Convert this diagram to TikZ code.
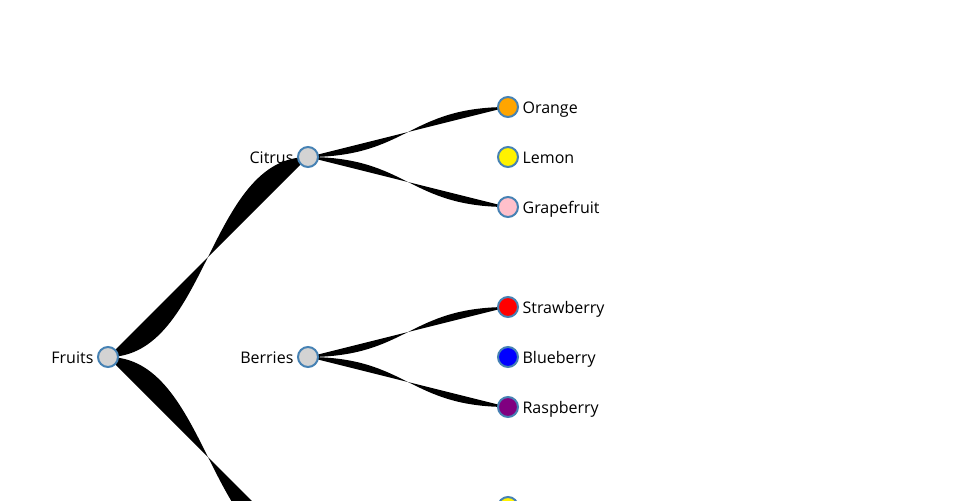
\documentclass[tikz,border=0pt]{standalone}
\usepackage{fontspec}
\setmainfont{Open Sans}
\usepackage{tikz}
\usetikzlibrary{backgrounds}
\definecolor{steelblue}{HTML}{4682B4}
\definecolor{lightgray}{HTML}{D3D3D3}
\definecolor{orange}{HTML}{FFA500}
\definecolor{pink}{HTML}{FFC0CB}
\definecolor{purple}{HTML}{800080}
\tikzset{dot/.style={circle,draw=steelblue,line width=1.5pt,minimum size=15pt,inner sep=0pt,fill=lightgray}}
\tikzset{leaf/.style={dot,label={[lbl,xshift=2.5pt]right:#1}}}
\tikzset{inner/.style={dot,label={[lbl,xshift=-2.5pt]left:#1}}}
\tikzset{lbl/.style={inner sep=0pt,text height=0.7em,text depth=0pt,yshift=-1.2pt,font=\fontsize{12}{14.4}\selectfont}}
\tikzset{link/.style={fill=black,draw=none}}

\begin{document}
\begin{tikzpicture}[x=0.75pt,y=-0.75pt]
\useasboundingbox (0,0) rectangle (960,500);
\clip (0,0) rectangle (960,500);
% \draw[help lines,step=50] (0,0) grid (960,500);
\node (fruits) [inner=Fruits] at (108,357) {};
\node (citrus) [inner=Citrus] at (308,157) {};
\node (berries) [inner=Berries] at (308,357) {};
\node (tropical) [dot] at (308,557) {};
%
\node (orange) [leaf=Orange,fill=orange] at (508,107) {};
\node (lemon) [leaf=Lemon,fill=yellow] at (508,157) {};
\node (grapefruit) [leaf=Grapefruit,fill=pink] at (508,207) {};
\node (strawberry) [leaf=Strawberry,fill=red] at (508,307) {};
\node (blueberry) [leaf=Blueberry,fill=blue] at (508,357) {};
\node (raspberry) [leaf=Raspberry,fill=purple] at (508,407) {};
\node (banana) [dot,fill=yellow] at (508,507) {};
%
\begin{scope}[on background layer]
{\path[link] (fruits.center) .. controls +(100,0) and +(-100,0) .. (citrus.center) -- cycle;}
{\path[link] (fruits.center) .. controls +(100,0) and +(-100,0) .. (tropical.center) -- cycle;}
%
{\path[link] (citrus.center) .. controls +(100,0) and +(-100,0) .. (orange.center) -- cycle;}
{\path[link] (citrus.center) .. controls +(100,0) and +(-100,0) .. (grapefruit.center) -- cycle;}
{\path[link] (berries.center) .. controls +(100,0) and +(-100,0) .. (strawberry.center) -- cycle;}
{\path[link] (berries.center) .. controls +(100,0) and +(-100,0) .. (raspberry.center) -- cycle;}
\end{scope}
\end{tikzpicture}
\end{document}
